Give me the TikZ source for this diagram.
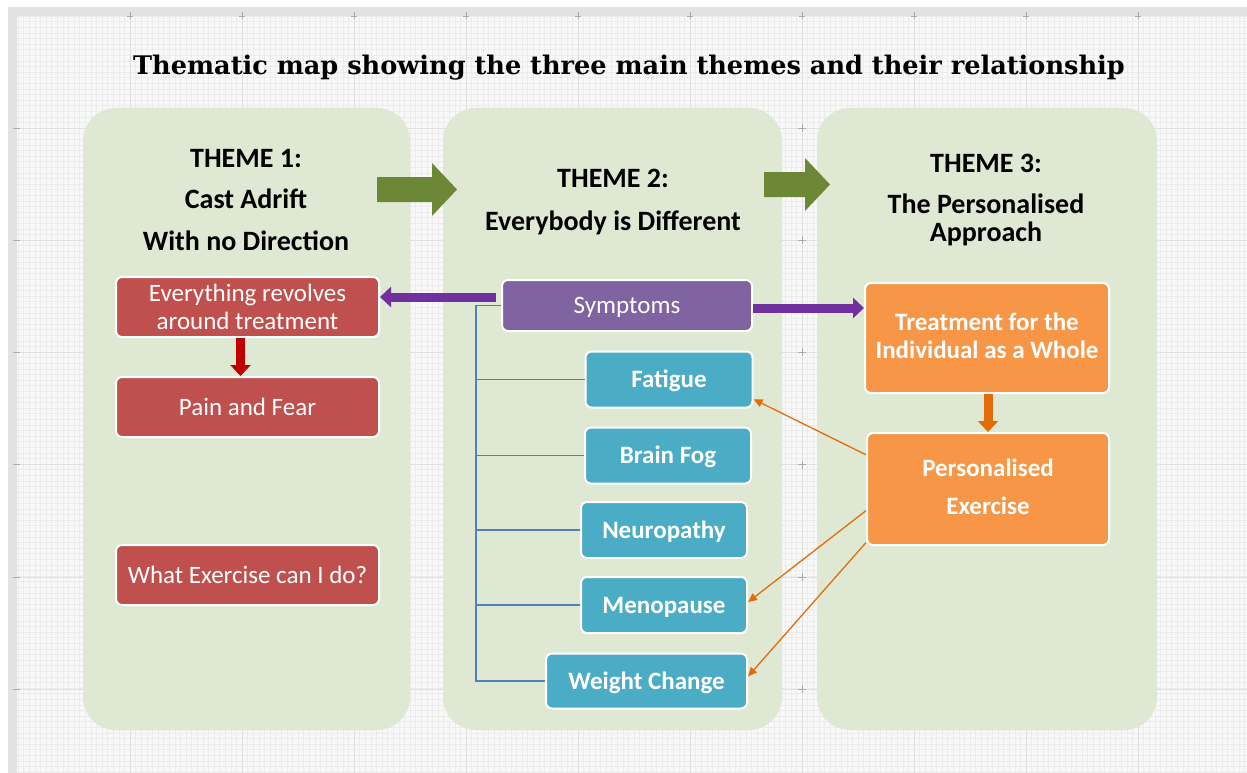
\documentclass[tikz,border=0pt]{standalone}
\usepackage{fontspec}
\setmainfont{Carlito}
\newfontfamily\titlefont{DejaVu Serif}
\usetikzlibrary{arrows.meta,calc}
\definecolor{canvas}{RGB}{248,248,248}
\definecolor{framegray}{RGB}{226,226,226}
\definecolor{gridminor}{RGB}{236,236,236}
\definecolor{gridmajor}{RGB}{224,224,224}
\definecolor{crossgray}{RGB}{170,170,170}
\definecolor{panel}{RGB}{223,232,211}
\definecolor{greenarrow}{RGB}{108,136,54}
\definecolor{redbox}{RGB}{192,80,77}
\definecolor{redarrow}{RGB}{192,0,0}
\definecolor{purplebox}{RGB}{128,100,162}
\definecolor{purplearrow}{RGB}{112,48,160}
\definecolor{bluebox}{RGB}{75,172,198}
\definecolor{blueline}{RGB}{79,129,189}
\definecolor{orangebox}{RGB}{247,150,70}
\definecolor{orangearrow}{RGB}{227,108,9}
\tikzset{
  box/.style={draw=white, line width=2pt, rounded corners=6pt, text=white,
    align=center, inner sep=0pt, font=\fontsize{25}{27.5}\selectfont},
  oneline/.style={text height=21pt, text depth=4.9pt},
  redstyle/.style={box, fill=redbox},
  purplestyle/.style={box, fill=purplebox},
  bluestyle/.style={box, oneline, fill=bluebox, font=\bfseries\fontsize{25}{27.5}\selectfont},
  orangestyle/.style={box, fill=orangebox, font=\bfseries\fontsize{25}{28}\selectfont},
  themetext/.style={anchor=base, inner sep=0pt, font=\bfseries\fontsize{28}{30}\selectfont},
  panelfill/.style={fill=panel, rounded corners=33pt},
  bigarrow/.style={fill=greenarrow},
  thickarrow/.style={line width=9pt, -{Triangle[length=11pt,width=20pt]}},
  thinarrow/.style={orangearrow, line width=1.3pt, -{Triangle[length=9pt,width=8pt]}},
  busline/.style={blueline, line width=1.2pt},
}
\begin{document}
\begin{tikzpicture}[x=1pt,y=-1pt]
% canvas and grid
\fill[white] (0,0) rectangle (1247,773);
\useasboundingbox (0,0) rectangle (1247,773);
\fill[framegray] (8,7) rectangle (1247,773);
\fill[canvas] (17,16) rectangle (1247,773);
\foreach \i in {0,...,219} \draw[gridminor, line width=0.5pt] ({18+5.6*\i},16) -- ({18+5.6*\i},773);
\foreach \j in {0,...,135} \draw[gridminor, line width=0.5pt] (17,{16+5.6*\j}) -- (1247,{16+5.6*\j});
\foreach \i in {0,...,9} {
  \draw[gridmajor, line width=0.6pt] ({130+112*\i},16) -- ({130+112*\i},773);
  \draw[crossgray, line width=0.6pt] ({130+112*\i},12) -- ({130+112*\i},19);
  \draw[crossgray, line width=0.6pt] ({127+112*\i},16) -- ({133+112*\i},16);
}
\foreach \j in {0,...,5} {
  \draw[gridmajor, line width=0.6pt] (17,{128+112.2*\j}) -- (1247,{128+112.2*\j});
  \draw[crossgray, line width=0.6pt] (13,{128+112.2*\j}) -- (20,{128+112.2*\j});
}
% panels
\fill[panelfill] (83,108) rectangle (410,730);
\fill[panelfill] (443,108) rectangle (782,730);
\fill[panelfill] (817,108) rectangle (1157,730);
% crosses in gap
\foreach \j in {0,...,5} {
  \draw[crossgray, line width=0.6pt] (798,{128+112.2*\j}) -- (806,{128+112.2*\j});
  \draw[crossgray, line width=0.6pt] (802,{124+112.2*\j}) -- (802,{132+112.2*\j});
}
% title
\node[anchor=base, inner sep=0pt, font=\titlefont\bfseries\fontsize{25.6}{30}\selectfont] (title) at (629,75)
  {Thematic map showing the three main themes and their relationship};
% theme titles
\node[themetext] (t1a) at (246,167) {THEME 1:};
\node[themetext] (t1b) at (246,208) {Cast Adrift};
\node[themetext] (t1c) at (246,250) {With no Direction};
\node[themetext] (t2a) at (613,187) {THEME 2:};
\node[themetext] (t2b) at (613,230) {Everybody is Different};
\node[themetext] (t3a) at (986,172) {THEME 3:};
\node[themetext] (t3b) at (986,213) {The Personalised};
\node[themetext] (t3c) at (986,241) {Approach};
% green block arrows
\fill[bigarrow] (377,177) -- (432,177) -- (432,163) -- (457,189.5) -- (432,216) -- (432,202) -- (377,202) -- cycle;
\fill[bigarrow] (764,172) -- (805,172) -- (805,158) -- (830,184.5) -- (805,211) -- (805,197) -- (764,197) -- cycle;
% theme 1 boxes
\node[redstyle, minimum width=263pt, minimum height=60pt] (ev) at (247.5,307) {Everything revolves\\around treatment};
\node[redstyle, oneline, minimum width=263pt, minimum height=60pt] (pf) at (247.5,407) {Pain and Fear};
\node[redstyle, oneline, minimum width=263pt, minimum height=60pt] (wx) at (247.5,575) {What Exercise can I do?};
% theme 2 boxes
\node[purplestyle, oneline, minimum width=250pt, minimum height=51pt] (sym) at (627,305.5) {Symptoms};
\node[bluestyle, minimum width=167pt, minimum height=56pt] (fat) at (669,379.5) {Fatigue};
\node[bluestyle, minimum width=166pt, minimum height=56pt] (bf) at (668,455.5) {Brain Fog};
\node[bluestyle, minimum width=166pt, minimum height=56pt] (neu) at (664,530) {Neuropathy};
\node[bluestyle, minimum width=166pt, minimum height=56pt] (men) at (664,605) {Menopause};
\node[bluestyle, minimum width=201pt, minimum height=55pt] (wc) at (646.5,681) {Weight Change};
% theme 3 boxes
\node[orangestyle, text depth=4pt, minimum width=244pt, minimum height=110pt] (tr) at (987,338) {Treatment for the\\Individual as a Whole};
\node[orangestyle, text depth=5pt, minimum width=242pt, minimum height=112pt, font=\bfseries\fontsize{25}{38}\selectfont] (pe) at (988,489) {Personalised\\Exercise};
% blue bus
\coordinate (bus) at (476,681);
\draw[busline] (sym.west) -- (sym.west -| bus) -- (wc.west -| bus) -- (wc.west);
\draw[busline] (fat.west -| bus) -- (fat.west);
\draw[busline] (bf.west -| bus) -- (bf.west);
\draw[busline] (neu.west -| bus) -- (neu.west);
\draw[busline] (men.west -| bus) -- (men.west);
% purple arrows
\coordinate (pl) at ($(sym.west)+(-5,-8.5)$);
\draw[thickarrow, purplearrow] (pl) -- (pl -| ev.east);
\coordinate (pr) at ($(sym.east)+(0,2.5)$);
\draw[thickarrow, purplearrow] (pr) -- (pr -| tr.west);
% red and orange down arrows
\draw[thickarrow, redarrow] ($(ev.south)+(-7,0)$) -- ($(pf.north)+(-7,0)$);
\draw[thickarrow, orangearrow] ($(tr.south)+(1,0)$) -- ($(pe.north)+(0,0)$);
% thin orange arrows
\draw[thinarrow] ($(pe.north west)!0.2!(pe.south west)$) -- ($(fat.north east)!0.84!(fat.south east)$);
\draw[thinarrow] ($(pe.north west)!0.69!(pe.south west)$) -- ($(men.north east)!0.45!(men.south east)$);
\draw[thinarrow] ($(pe.north west)!0.97!(pe.south west)$) -- ($(wc.north east)!0.42!(wc.south east)$);
\end{tikzpicture}
\end{document}
